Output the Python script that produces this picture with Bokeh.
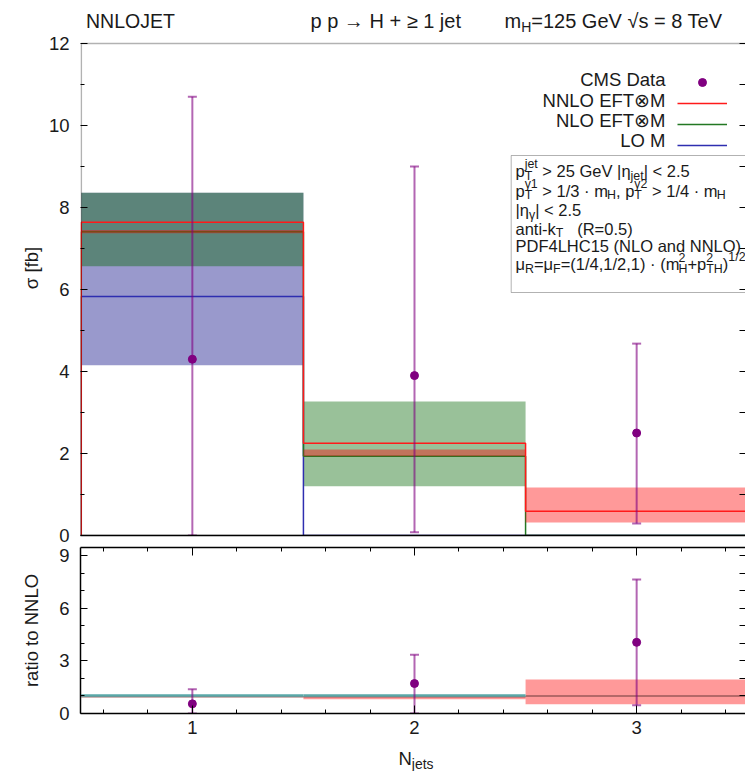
import math
from bokeh.plotting import figure
from bokeh.layouts import column
from bokeh.models import (Range1d, FixedTicker, LinearAxis, Label, BoxAnnotation,
                          Legend, LegendItem)
from bokeh.core.properties import value
from bokeh.embed import file_html
from bokeh.resources import INLINE

nan = float("nan")

# ---- data -----------------------------------------------------------------
bin_edges = [0.5, 1.5, 2.5, 3.5]
n_jets = [1, 2, 3]

# CMS measurement [fb] with total uncertainty range
cms_xs = [4.30, 3.90, 2.50]
cms_lo = [0.00, 0.08, 0.29]
cms_hi = [10.70, 9.00, 4.68]

# theory predictions [fb]: central value and scale band
nnlo_xs = [7.64, 2.25, 0.59]
nnlo_lo = [7.37, 1.93, 0.32]
nnlo_hi = [7.45, 2.10, 1.17]

nlo_xs = [7.41, 1.93, 0.00]
nlo_lo = [6.57, 1.20, nan]
nlo_hi = [8.36, 3.27, nan]

lo_xs = [5.83, 0.00, 0.00]
lo_lo = [4.15, nan, nan]
lo_hi = [8.36, nan, nan]

# ratio to NNLO
ratio_cms = [0.55, 1.71, 4.06]
ratio_cms_lo = [0.00, 0.00, 0.47]
ratio_cms_hi = [1.39, 3.35, 7.64]
ratio_nnlo = [0.96, 0.96, 1.00]
ratio_nnlo_lo = [nan, 0.81, 0.53]
ratio_nnlo_hi = [nan, 0.99, 1.94]
ratio_nlo = [1.02, 1.02, nan]

y_ticks = [0, 2, 4, 6, 8, 10, 12]
y_minor = [1, 3, 5, 7, 9, 11]
ratio_ticks = [0, 3, 6, 9]
ratio_minor = [1, 2, 4, 5, 7, 8]
x_ticks = [1, 2, 3]
x_minor = [0.6, 0.8, 1.2, 1.4, 1.6, 1.8, 2.2, 2.4, 2.6, 2.8, 3.2, 3.4]

FONT = "Liberation Sans"
INK = "#1a1a1a"
PURPLE = "#800080"

# panel geometry in pixels
FRAME_LEFT = 80
MAIN_FRAME_H = 535          # frame reaches the top of the canvas (header inside)
MAIN_AXIS_TOP = 492         # pixel height covered by 0..12
Y_MAX = 12
X_RANGE = (0.4965, 3.49)    # a hair wider on the left so the border shows fully

# approximate advance widths (per 1000 em) for laying out rich text runs
ADV = {' ': 278, '(': 333, ')': 333, '+': 584, ',': 278, '-': 333, '.': 278,
       '/': 278, '<': 584, '=': 584, '>': 584, '|': 260, 'A': 667, 'C': 722,
       'D': 722, 'E': 667, 'F': 611, 'G': 778, 'H': 722, 'J': 500, 'L': 556,
       'M': 833, 'N': 722, 'O': 778, 'P': 667, 'R': 722, 'S': 667, 'T': 611,
       'V': 667, 'a': 556, 'd': 556, 'e': 556, 'i': 222, 'j': 222, 'k': 500,
       'm': 833, 'n': 556, 'o': 556, 'p': 556, 'r': 333, 's': 500, 't': 278,
       'η': 556, 'γ': 500, 'μ': 576, '·': 278, '≥': 549, '→': 1000, '√': 549}


def adv(s, size):
    return sum(ADV.get(c, 556) for c in s) * size / 1000.0


def put(fig, x, y, s, size, align="left"):
    fig.add_layout(Label(x=x, y=y, x_units="screen", y_units="screen", text=s,
                         text_font=FONT, text_font_size=f"{size}px",
                         text_color=INK, text_align=align,
                         text_baseline="middle"))


def rich(fig, x, y, parts, size, ratio=0.75):
    """Lay out a run of normal / sub / sup / stacked pieces left to right."""
    small = round(size * ratio, 1)
    for part in parts:
        kind = part[0]
        if kind == "n":
            s = part[1]
            lead = len(s) - len(s.lstrip(" "))
            x += adv(" " * lead, size)
            body = s.strip(" ")
            if body:
                put(fig, x, y, body, size)
            x += adv(s.lstrip(" "), size)
        elif kind == "sub":
            put(fig, x, y - 0.30 * size, part[1], small)
            x += adv(part[1], small)
        elif kind == "sup":
            put(fig, x, y + 0.40 * size, part[1], small)
            x += adv(part[1], small)
        elif kind == "ss":
            put(fig, x, y + 0.40 * size, part[1], small)
            put(fig, x, y - 0.30 * size, part[2], small)
            x += max(adv(part[1], small), adv(part[2], small))
    return x


def bands(lo, hi):
    d = dict(left=[], right=[], bottom=[], top=[])
    for i in range(len(lo)):
        if not (math.isnan(lo[i]) or math.isnan(hi[i])):
            d["left"].append(bin_edges[i])
            d["right"].append(bin_edges[i + 1])
            d["bottom"].append(lo[i])
            d["top"].append(hi[i])
    return d


def step_path(vals):
    xs, ys = [bin_edges[0]], [0.0]
    for i, v in enumerate(vals):
        xs += [bin_edges[i], bin_edges[i + 1]]
        ys += [v, v]
    xs.append(bin_edges[-1])
    ys.append(0.0)
    return xs, ys


def levels(vals):
    d = dict(x0=[], x1=[], y=[])
    for i, v in enumerate(vals):
        if not math.isnan(v):
            d["x0"].append(bin_edges[i])
            d["x1"].append(bin_edges[i + 1])
            d["y"].append(v)
    return d


def style_axis(ax, major_in=7, minor_in=4, size=18.5):
    ax.major_tick_in = major_in
    ax.major_tick_out = 0
    ax.minor_tick_in = minor_in
    ax.minor_tick_out = 0
    ax.major_tick_line_color = "black"
    ax.minor_tick_line_color = "black"
    ax.axis_line_color = "black"
    ax.axis_line_width = 1.5
    ax.major_label_text_font = FONT
    ax.major_label_text_font_size = f"{size}px"
    ax.major_label_text_color = INK


def mirror_axis(ticks, tick_len, line=True):
    """Tick-only border axis (ticks given as minor ticks, so no labels)."""
    ax = LinearAxis(ticker=FixedTicker(ticks=[], minor_ticks=ticks))
    ax.minor_tick_in = tick_len
    ax.minor_tick_out = 0
    ax.major_tick_in = 0
    ax.major_tick_out = 0
    ax.major_label_standoff = 0
    ax.minor_tick_line_color = "black"
    ax.axis_line_color = "black" if line else None
    ax.axis_line_width = 1.5
    return ax


def errorbars(fig, xs, ys, lo, hi):
    fig.segment(x0=xs, y0=lo, x1=xs, y1=hi, line_color=PURPLE, line_alpha=0.6,
                line_width=2)
    fig.scatter(x=xs + xs, y=lo + hi, marker="dash", size=9,
                line_color=PURPLE, line_alpha=0.6, line_width=2)
    return fig.scatter(x=xs, y=ys, marker="circle", size=8,
                       fill_color=PURPLE, line_color=PURPLE)


# ---- main panel -----------------------------------------------------------
top = figure(width=745, height=546, x_range=Range1d(*X_RANGE),
             y_range=Range1d(0, Y_MAX * MAIN_FRAME_H / MAIN_AXIS_TOP),
             output_backend="svg", toolbar_location=None,
             min_border_left=FRAME_LEFT, min_border_right=0,
             min_border_top=0, min_border_bottom=11)
top.outline_line_color = None
top.grid.visible = False

top.quad(**bands(lo_lo, lo_hi), fill_color="#000080", fill_alpha=0.4,
         line_color=None)
top.quad(**bands(nlo_lo, nlo_hi), fill_color="#006400", fill_alpha=0.4,
         line_color=None)
lx, ly = step_path(lo_xs)
lo_line = top.line(lx, ly, line_color="#2e2eb0", line_width=1.5)
nx, ny = step_path(nlo_xs)
nlo_line = top.line(nx, ny, line_color="#237823", line_width=1.5)
top.quad(**bands(nnlo_lo, nnlo_hi), fill_color="red", fill_alpha=0.4,
         line_color=None)
hx, hy = step_path(nnlo_xs)
nnlo_line = top.line(hx, hy, line_color="#ff1a1a", line_width=1.5)
dots = errorbars(top, n_jets, cms_xs, cms_lo, cms_hi)

# plot border: left and top edges of the 0..12 area (right edge runs off the page)
top.add_layout(BoxAnnotation(left=bin_edges[0], right=4.0, bottom=0, top=Y_MAX,
                             fill_alpha=0, line_color="black", line_width=1.6))

top.xaxis.ticker = FixedTicker(ticks=[])
top.xaxis.axis_line_width = 1.5
top.xaxis.axis_line_color = "black"
top.xaxis.major_label_standoff = 0
top.yaxis.ticker = FixedTicker(ticks=y_ticks, minor_ticks=y_minor)
style_axis(top.yaxis[0])
top.yaxis.axis_line_color = None
top.yaxis.major_label_standoff = 11
top.yaxis.axis_label = "σ [fb]"
top.yaxis.axis_label_text_font = FONT
top.yaxis.axis_label_text_font_size = "18.5px"
top.yaxis.axis_label_text_font_style = "normal"
top.yaxis.axis_label_text_color = INK
top.yaxis.axis_label_standoff = 4
top.add_layout(mirror_axis(y_ticks + y_minor, 6, line=False), "right")

# legend keys (their text is set separately, right aligned, left of the keys)
legend = Legend(items=[LegendItem(label=value(""), renderers=[dots]),
                       LegendItem(label=value(""), renderers=[nnlo_line]),
                       LegendItem(label=value(""), renderers=[nlo_line]),
                       LegendItem(label=value(""), renderers=[lo_line])],
                location=(597, 380), orientation="vertical", glyph_width=50,
                glyph_height=20, label_height=20, label_width=0,
                label_standoff=0, spacing=1, padding=0, margin=0,
                border_line_color=None, background_fill_alpha=0)
top.add_layout(legend)
for text, yy in zip(["CMS Data", "NNLO EFT⊗M", "NLO EFT⊗M", "LO M"],
                    [455.8, 435.5, 415.5, 395.0]):
    put(top, 585, yy, text, 18.5, align="right")

# header line
put(top, 5.5, 515, "NNLOJET", 19.5)
put(top, 230, 515, "p p → H + ≥ 1 jet", 20)
rich(top, 424, 515, [("n", "m"), ("sub", "H"), ("n", "=125 GeV √s  = 8 TeV")],
     20, ratio=0.7)

# cut description box
top.add_layout(BoxAnnotation(left=430.7, right=680, top=380, bottom=243,
                             left_units="screen", right_units="screen",
                             top_units="screen", bottom_units="screen",
                             fill_alpha=0, line_color="black", line_width=1))
fs = 16.5
rich(top, 435, 364.5, [("n", "p"), ("ss", "jet", "T"), ("n", " > 25 GeV |η"),
                       ("sub", "jet"), ("n", "| < 2.5")], fs)
rich(top, 435, 345.0, [("n", "p"), ("ss", "γ1", "T"), ("n", " > 1/3 · m"),
                       ("sub", "H"), ("n", ", p"), ("ss", "γ2", "T"),
                       ("n", " > 1/4 · m"), ("sub", "H")], fs)
rich(top, 435, 325.5, [("n", "|η"), ("sub", "γ"), ("n", "| < 2.5")], fs)
rich(top, 435, 307.0, [("n", "anti-k"), ("sub", "T"), ("n", "   (R=0.5)")], fs)
rich(top, 435, 289.5, [("n", "PDF4LHC15 (NLO and NNLO)")], fs)
rich(top, 435, 271.5, [("n", "μ"), ("sub", "R"), ("n", "=μ"), ("sub", "F"),
                       ("n", "=(1/4,1/2,1) · (m"), ("ss", "2", "H"), ("n", "+p"),
                       ("ss", "2", "TH"), ("n", ")"), ("sup", "1/2")], fs)

# ---- ratio panel ----------------------------------------------------------
bot = figure(width=745, height=199, x_range=Range1d(*X_RANGE),
             y_range=Range1d(0, 9.47), output_backend="svg",
             toolbar_location=None, min_border_left=FRAME_LEFT,
             min_border_right=0, min_border_top=1, min_border_bottom=32)
bot.outline_line_color = None
bot.grid.visible = False

bot.quad(**bands(ratio_nnlo_lo, ratio_nnlo_hi), fill_color="red",
         fill_alpha=0.4, line_color=None)
bot.segment(x0="x0", x1="x1", y0="y", y1="y", source=levels(ratio_nnlo),
            line_color="#8a4e4e", line_alpha=0.85, line_width=1.5)
bot.segment(x0="x0", x1="x1", y0="y", y1="y", source=levels(ratio_nlo),
            line_color="#5aa8a8", line_width=2.5)
errorbars(bot, n_jets, ratio_cms, ratio_cms_lo, ratio_cms_hi)

bot.xaxis.ticker = FixedTicker(ticks=x_ticks, minor_ticks=x_minor)
style_axis(bot.xaxis[0], major_in=8)
bot.xaxis.major_label_standoff = 7
bot.yaxis.ticker = FixedTicker(ticks=ratio_ticks, minor_ticks=ratio_minor)
style_axis(bot.yaxis[0])
bot.yaxis.major_label_standoff = 11
bot.yaxis.axis_label = "ratio to NNLO"
bot.yaxis.axis_label_text_font = FONT
bot.yaxis.axis_label_text_font_size = "18.5px"
bot.yaxis.axis_label_text_font_style = "normal"
bot.yaxis.axis_label_text_color = INK
bot.yaxis.axis_label_standoff = 14

upper = mirror_axis(x_minor, 4)
bot.add_layout(upper, "above")
upper_major = mirror_axis(x_ticks, 8, line=False)
bot.add_layout(upper_major, "above")
bot.add_layout(mirror_axis(ratio_ticks + ratio_minor, 6, line=False), "right")

# ---- x-axis title strip -----------------------------------------------------
foot = figure(width=745, height=26, x_range=Range1d(0, 1), y_range=Range1d(0, 1),
              output_backend="svg", toolbar_location=None, min_border=0,
              min_border_left=FRAME_LEFT)
foot.axis.visible = False
foot.grid.visible = False
foot.outline_line_color = None
rich(foot, 398 - FRAME_LEFT, 13, [("n", "N"), ("sub", "jets")], 18.5)

layout = column(top, bot, foot)
open("out.html", "w").write(file_html(layout, INLINE))
